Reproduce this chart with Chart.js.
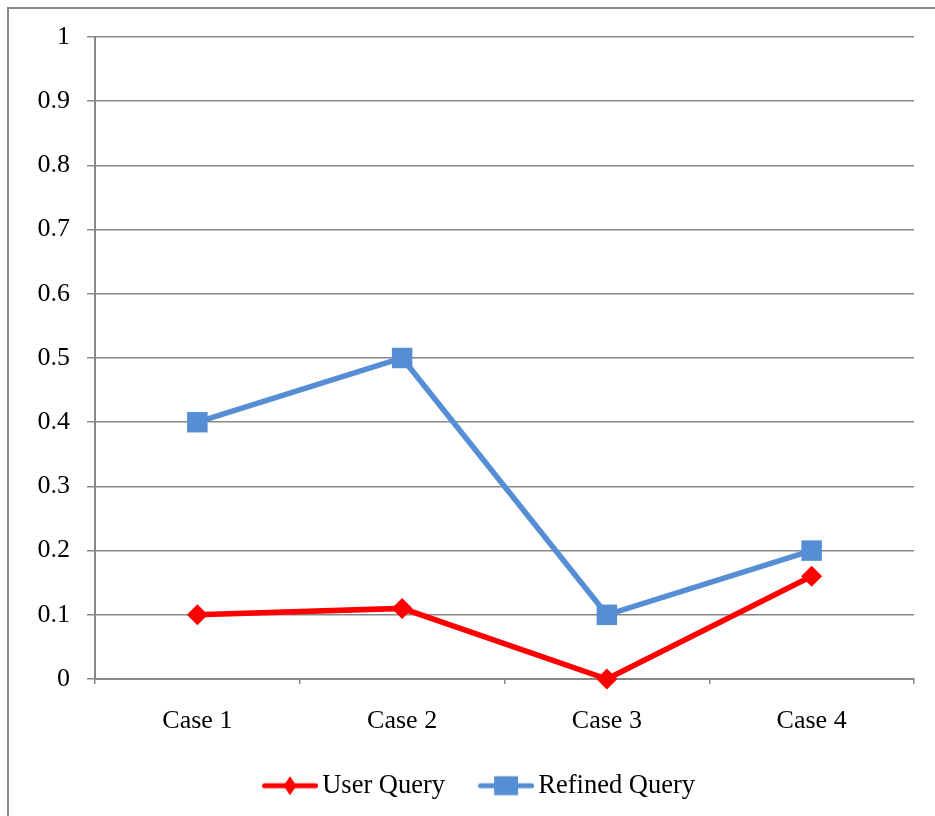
<!DOCTYPE html>
<html>
<head>
<meta charset="utf-8">
<script src="https://cdn.jsdelivr.net/npm/chart.js@4"></script>
<style>
  html, body { margin: 0; padding: 0; background: #fff; }
  #wrap { position: relative; width: 935px; height: 816px; overflow: hidden; }
  #frame { position: absolute; left: 7px; top: 7px; width: 960px; height: 860px;
           border: 2.5px solid #878787; box-sizing: border-box; }
  #c { position: absolute; left: 0; top: 0; }
</style>
</head>
<body>
<div id="wrap">
  <div id="frame"></div>
  <canvas id="c" width="935" height="816"></canvas>
</div>
<script>
const categories = ['Case 1', 'Case 2', 'Case 3', 'Case 4'];
const userQuery = [0.10, 0.11, 0.00, 0.16];
const refinedQuery = [0.40, 0.50, 0.10, 0.20];
const yTickLabels = ['0', '0.1', '0.2', '0.3', '0.4', '0.5', '0.6', '0.7', '0.8', '0.9', '1'];

const RED = '#FF0000';
const BLUE = '#558ED5';
const GRID = '#888888';
const FONT = "'Liberation Serif', 'Times New Roman', serif";

// small line-with-marker swatch used as the legend point style
function swatch(color, shape) {
  const cv = document.createElement('canvas');
  cv.width = 56; cv.height = 24;
  const g = cv.getContext('2d');
  g.strokeStyle = color;
  g.lineWidth = 5;
  g.lineCap = 'round';
  g.beginPath(); g.moveTo(2.5, 12); g.lineTo(53.5, 12); g.stroke();
  g.fillStyle = color;
  if (shape === 'diamond') {
    g.beginPath();
    g.moveTo(28, 2.5); g.lineTo(34.5, 12); g.lineTo(28, 21.5); g.lineTo(21.5, 12);
    g.closePath(); g.fill();
  } else {
    g.fillRect(16, 2.5, 24, 19);
  }
  return cv;
}

const swatches = [swatch(RED, 'diamond'), swatch(BLUE, 'square')];

// nudges the legend row sideways after layout
const legendShift = {
  id: 'legendShift',
  afterLayout(chart) {
    const lg = chart.legend;
    if (lg) { lg.left += 26; lg.right += 26; }
  }
};

new Chart(document.getElementById('c'), {
  type: 'line',
  data: {
    labels: categories,
    datasets: [
      {
        label: 'User Query',
        data: userQuery,
        borderColor: RED,
        backgroundColor: RED,
        borderWidth: 5.5,
        pointStyle: 'rectRot',
        pointRadius: 10.5,
        pointBorderWidth: 0,
        pointHoverRadius: 10.5,
        tension: 0,
        clip: false
      },
      {
        label: 'Refined Query',
        data: refinedQuery,
        borderColor: BLUE,
        backgroundColor: BLUE,
        borderWidth: 5.5,
        pointStyle: 'rect',
        pointRadius: 14.5,
        pointBorderWidth: 0,
        pointHoverRadius: 14.5,
        tension: 0,
        clip: false
      }
    ]
  },
  plugins: [legendShift],
  options: {
    responsive: false,
    animation: false,
    layout: { padding: { left: 0, right: 21, top: 37, bottom: 7 } },
    plugins: {
      tooltip: { enabled: false },
      legend: {
        position: 'bottom',
        labels: {
          usePointStyle: true,
          pointStyleWidth: 38,
          boxHeight: 24,
          padding: 42,
          color: '#000',
          font: { family: FONT, size: 26.5 },
          generateLabels(chart) {
            return chart.data.datasets.map((ds, i) => ({
              text: ds.label,
              pointStyle: swatches[i],
              fillStyle: ds.borderColor,
              strokeStyle: ds.borderColor,
              lineWidth: 0,
              hidden: false,
              datasetIndex: i,
              fontColor: '#000'
            }));
          }
        }
      }
    },
    scales: {
      x: {
        offset: true,
        grid: {
          offset: true,
          drawOnChartArea: false,
          drawTicks: true,
          tickLength: 5,
          color: GRID,
          lineWidth: 1.5
        },
        border: { color: GRID, width: 2 },
        ticks: {
          color: '#000',
          padding: 22,
          font: { family: FONT, size: 26 },
          maxRotation: 0
        },
        afterFit(scale) { scale.height = 51.5; }
      },
      y: {
        min: 0,
        max: 1,
        grid: {
          color: GRID,
          lineWidth: 1.5,
          tickLength: 8
        },
        border: { color: GRID, width: 2 },
        ticks: {
          stepSize: 0.1,
          color: '#000',
          padding: 17,
          font: { family: FONT, size: 26 },
          callback(value, index) { return yTickLabels[index]; }
        },
        afterFit(scale) { scale.width = 95; }
      }
    }
  }
});
</script>
</body>
</html>
